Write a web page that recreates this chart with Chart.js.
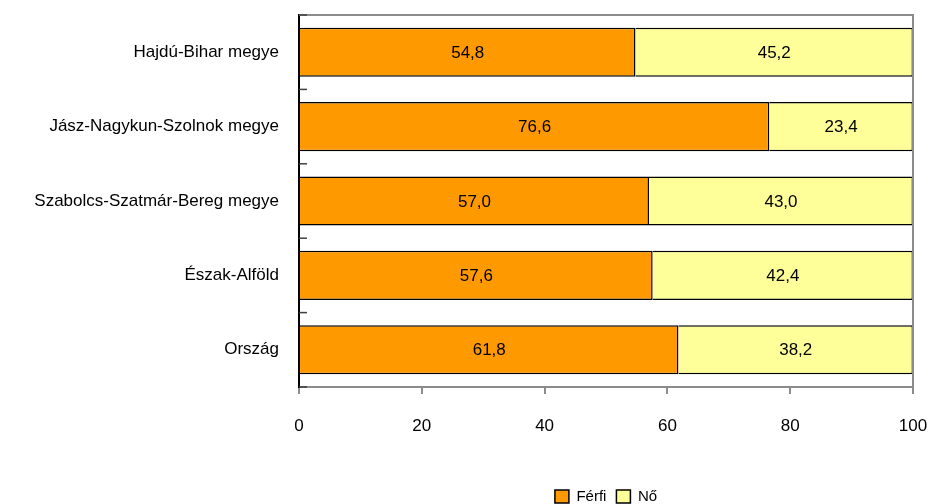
<!DOCTYPE html>
<html>
<head>
<meta charset="utf-8">
<script src="https://cdn.jsdelivr.net/npm/chart.js@4/dist/chart.umd.min.js"></script>
<style>
html,body{margin:0;padding:0;background:#fff;}
#wrap{width:929px;height:504px;position:relative;}
</style>
</head>
<body>
<div id="wrap"><canvas id="c" width="929" height="504"></canvas></div>
<script>
const categories = ["Hajdú-Bihar megye", "Jász-Nagykun-Szolnok megye", "Szabolcs-Szatmár-Bereg megye", "Észak-Alföld", "Ország"];
const ferfi = [54.8, 76.6, 57.0, 57.6, 61.8];
const no = [45.2, 23.4, 43.0, 42.4, 38.2];
const seriesNames = ["Férfi", "Nő"];
const xTicks = [0, 20, 40, 60, 80, 100];

const FONT = "'Liberation Sans', Arial, sans-serif";

const frame = {
  id: 'frame',
  afterDatasetsDraw(chart) {
    const {ctx, chartArea: a, scales} = chart;
    ctx.save();
    ctx.strokeStyle = '#8c8c8c';
    ctx.lineWidth = 2;
    ctx.beginPath();
    ctx.moveTo(a.left, a.top);
    ctx.lineTo(a.right, a.top);
    ctx.lineTo(a.right, a.bottom);
    ctx.stroke();
    const y = scales.y;
    ctx.strokeStyle = '#404040';
    ctx.lineWidth = 1.5;
    const n = categories.length;
    for (let i = 0; i <= n; i++) {
      const py = y.getPixelForValue(i - 0.5);
      ctx.beginPath();
      ctx.moveTo(a.left, py);
      ctx.lineTo(a.left + 8, py);
      ctx.stroke();
    }
    ctx.fillStyle = '#000';
    ctx.font = '17px ' + FONT;
    ctx.textAlign = 'center';
    ctx.textBaseline = 'middle';
    chart.data.datasets.forEach((ds, di) => {
      const meta = chart.getDatasetMeta(di);
      meta.data.forEach((el, i) => {
        const cx = (el.x + el.base) / 2;
        ctx.fillText(ds.data[i].toFixed(1).replace('.', ','), cx, el.y + 1);
      });
    });
    ctx.restore();
  }
};

new Chart(document.getElementById('c'), {
  type: 'bar',
  data: {
    labels: categories,
    datasets: [
      { label: seriesNames[0], data: ferfi, backgroundColor: '#FF9900', borderColor: '#000', borderWidth: 1.5, barPercentage: 0.66, categoryPercentage: 1 },
      { label: seriesNames[1], data: no, backgroundColor: '#FFFF99', borderColor: '#000', borderWidth: 1.5, barPercentage: 0.66, categoryPercentage: 1 }
    ]
  },
  options: {
    indexAxis: 'y',
    responsive: false,
    animation: false,
    devicePixelRatio: 1,
    layout: { padding: { top: 15, right: 16, left: 0, bottom: 0 } },
    scales: {
      x: {
        stacked: true, min: 0, max: 100,
        afterBuildTicks(scale) { scale.ticks = xTicks.map(v => ({ value: v })); },
        afterFit(scale) { scale.height = 92; scale.paddingLeft = 0; scale.paddingRight = 0; },
        grid: { drawOnChartArea: false, drawTicks: true, tickLength: 7, color: '#8c8c8c', lineWidth: 2 },
        border: { display: true, color: '#8c8c8c', width: 2 },
        ticks: { padding: 22, color: '#000', font: { family: FONT, size: 17 }, maxRotation: 0 }
      },
      y: {
        stacked: true,
        afterFit(scale) { scale.width = 299; scale.paddingTop = 0; scale.paddingBottom = 0; },
        grid: { display: false, drawTicks: false },
        border: { display: true, color: '#000', width: 2 },
        ticks: { padding: 20, color: '#000', font: { family: FONT, size: 17 } }
      }
    },
    plugins: {
      legend: {
        position: 'bottom',
        fullSize: false,
        maxHeight: 25,
        labels: { boxWidth: 14, boxHeight: 13, padding: 10, color: '#000', font: { family: FONT, size: 15 } }
      },
      tooltip: { enabled: false }
    }
  },
  plugins: [frame]
});
</script>
</body>
</html>
